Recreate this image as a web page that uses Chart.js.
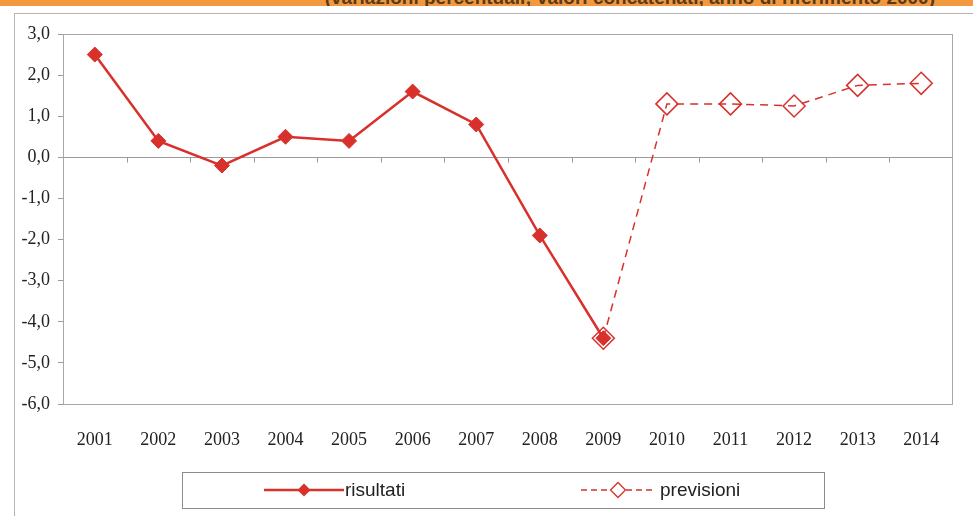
<!DOCTYPE html>
<html>
<head>
<meta charset="utf-8">
<script src="https://cdn.jsdelivr.net/npm/chart.js@4.4.1/dist/chart.umd.min.js"></script>
<style>
  body{margin:0;background:#fff;}
  #wrap{position:relative;width:973px;height:516px;overflow:hidden;background:#fff;}
  #band{position:absolute;left:0;top:0;width:973px;height:6px;background:#f2993f;overflow:hidden;}
  #band span{position:absolute;right:38px;top:-13px;font:bold 19px "Liberation Sans",Arial,sans-serif;color:#5a3a1a;white-space:nowrap;}
  #frame{position:absolute;left:14px;top:13px;width:980px;height:520px;border-top:1px solid #b5b5b5;border-left:1px solid #b5b5b5;}
  canvas{position:absolute;left:0;top:0;}
</style>
</head>
<body>
<div id="wrap">
  <div id="band"><span>(variazioni percentuali; valori concatenati, anno di riferimento 2000)</span></div>
  <div id="frame"></div>
  <canvas id="chart" width="973" height="516"></canvas>
</div>
<script>
// data
const years = ["2001","2002","2003","2004","2005","2006","2007","2008","2009","2010","2011","2012","2013","2014"];
const risultati = [2.5, 0.4, -0.2, 0.5, 0.4, 1.6, 0.8, -1.9, -4.4, null, null, null, null, null];
const previsioni = [null, null, null, null, null, null, null, null, -4.4, 1.3, 1.3, 1.25, 1.75, 1.8];
const legendLabels = ["risultati", "previsioni"];

const red = "#d8312c";
const axisGrey = "#9a9a9a";
const serif = "'Liberation Serif', 'Times New Roman', serif";

//plot box + little ticks on the zero line
const frameBox = {
    id: "frameBox",
    beforeDatasetsDraw(chart){
        const {ctx, chartArea, scales} = chart;
        ctx.save();
        ctx.strokeStyle = "#a8a8a8";
        ctx.lineWidth = 1;
        ctx.strokeRect(chartArea.left + 0.5, chartArea.top + 0.5, chartArea.width - 1, chartArea.height);
        const y0 = Math.round(scales.y.getPixelForValue(0)) + 0.5;
        ctx.strokeStyle = axisGrey;
        ctx.beginPath();
        for(let i = 1; i < years.length; i++){
            const x = Math.round((scales.x.getPixelForValue(i - 1) + scales.x.getPixelForValue(i)) / 2) + 0.5;
            ctx.moveTo(x, y0);
            ctx.lineTo(x, y0 + 5);
        }
        ctx.stroke();
        ctx.restore();
    }
};

function diamond(ctx, x, y, r, fill){
    ctx.beginPath();
    ctx.moveTo(x, y - r);
    ctx.lineTo(x + r, y);
    ctx.lineTo(x, y + r);
    ctx.lineTo(x - r, y);
    ctx.closePath();
    if(fill){ ctx.fill(); } else { ctx.stroke(); }
}

//excel style legend in a box
const boxLegend = {
    id: "boxLegend",
    afterDraw(chart){
        const ctx = chart.ctx;
        ctx.save();
        ctx.strokeStyle = "#8c8c8c";
        ctx.lineWidth = 1;
        ctx.strokeRect(182.5, 472.5, 642, 36);
        const cy = 490;
        ctx.font = "19px 'Liberation Sans', Arial, sans-serif";
        ctx.textBaseline = "middle";
        // risultati
        ctx.strokeStyle = red;
        ctx.fillStyle = red;
        ctx.lineWidth = 2.5;
        ctx.beginPath(); ctx.moveTo(264, cy); ctx.lineTo(344, cy); ctx.stroke();
        diamond(ctx, 304, cy, 6.5, true);
        ctx.fillStyle = "#222";
        ctx.fillText(legendLabels[0], 345, cy + 1);
        // previsioni
        ctx.strokeStyle = red;
        ctx.lineWidth = 1.3;
        ctx.setLineDash([6, 4]);
        ctx.beginPath(); ctx.moveTo(581, cy); ctx.lineTo(610, cy); ctx.moveTo(626, cy); ctx.lineTo(653, cy); ctx.stroke();
        ctx.setLineDash([]);
        diamond(ctx, 618, cy, 7.5, false);
        ctx.fillStyle = "#222";
        ctx.fillText(legendLabels[1], 660, cy + 1);
        ctx.restore();
    }
};

new Chart(document.getElementById("chart"), {
    type: "line",
    data: {
        labels: years,
        datasets: [
            {
                label: legendLabels[0],
                data: risultati,
                borderColor: red,
                backgroundColor: red,
                borderWidth: 2.5,
                pointStyle: "rectRot",
                pointRadius: 7.5,
                pointBorderWidth: 1,
                tension: 0,
                spanGaps: false,
                order: 1
            },
            {
                label: legendLabels[1],
                data: previsioni,
                borderColor: red,
                backgroundColor: "rgba(0,0,0,0)",
                borderWidth: 1.5,
                borderDash: [8, 6],
                pointStyle: "rectRot",
                pointRadius: 11,
                pointBorderWidth: 1.5,
                pointBackgroundColor: "rgba(0,0,0,0)",
                tension: 0,
                order: 2
            }
        ]
    },
    options: {
        responsive: false,
        animation: false,
        layout: {padding: {top: 34, right: 20, left: 0, bottom: 0}},
        plugins: {legend: {display: false}, tooltip: {enabled: false}},
        scales: {
            x: {
                offset: true,
                grid: {display: false, drawTicks: false},
                border: {display: false},
                ticks: {
                    padding: 25,
                    color: "#222",
                    font: {family: serif, size: 18},
                    maxRotation: 0
                },
                afterFit(scale){ scale.height = 112; }
            },
            y: {
                min: -6,
                max: 3,
                ticks: {
                    stepSize: 1,
                    padding: 8,
                    color: "#222",
                    font: {family: serif, size: 18},
                    callback: v => v.toFixed(1).replace(".", ",")
                },
                grid: {
                    color: c => c.tick && c.tick.value === 0 ? axisGrey : "rgba(0,0,0,0)",
                    tickColor: axisGrey,
                    tickLength: 5,
                    lineWidth: 1
                },
                border: {display: true, color: "#a8a8a8"},
                afterFit(scale){ scale.width = 63; }
            }
        }
    },
    plugins: [frameBox, boxLegend]
});
</script>
</body>
</html>
